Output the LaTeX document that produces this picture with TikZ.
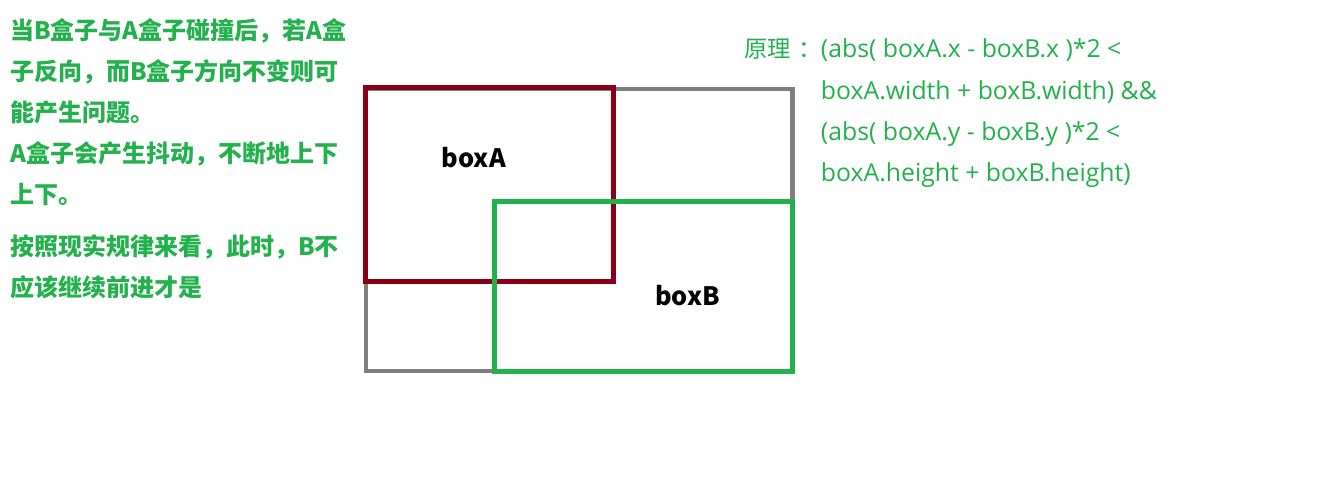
\documentclass[tikz,border=0pt]{standalone}
\usepackage{fontspec}
\setmainfont{Noto Sans CJK SC}
\newfontfamily\latinfont{Open Sans}
\definecolor{tgreen}{RGB}{34,177,76}
\definecolor{tred}{RGB}{136,0,21}
\definecolor{tgray}{RGB}{127,127,127}
\begin{document}
\begin{tikzpicture}[x=0.75pt,y=-0.75pt,
  lefttxt/.style={anchor=base west,inner sep=0,text=tgreen,font=\fontsize{18pt}{18pt}\selectfont\bfseries},
  cjktxt/.style={anchor=base west,inner sep=0,text=tgreen,font=\fontsize{17.5pt}{17.5pt}\selectfont},
  formtxt/.style={anchor=base west,inner sep=0,text=tgreen,font=\fontsize{18.6pt}{18.6pt}\selectfont\latinfont},
  boxlbl/.style={anchor=base west,inner sep=0,text=black,font=\fontsize{19pt}{19pt}\selectfont\bfseries},
  boxline/.style={line width=3.75pt}]
\useasboundingbox (0,0) rectangle (1318,492);
% rectangles
\draw[boxline,tgray,line width=3.4pt] (366.2,89.2) rectangle (792.5,371.2);
\draw[boxline,tred] (365.5,88) rectangle (613.3,281.8);
\draw[boxline,tgreen] (494.8,201.5) rectangle (792.5,371);
\node[boxlbl] (la) at (441.7,167.7) {boxA};
\node[boxlbl] (lb) at (655,305) {boxB};
% left text
\node[lefttxt] (t1) at (10,40) {当B盒子与A盒子碰撞后，若A盒};
\node[lefttxt] (t2) at (10,80.5) {子反向，而B盒子方向不变则可};
\node[lefttxt] (t3) at (10,121.5) {能产生问题。};
\node[lefttxt] (t4) at (10,162) {A盒子会产生抖动，不断地上下};
\node[lefttxt] (t5) at (10,203) {上下。};
\node[lefttxt] (t6) at (10,255) {按照现实规律来看，此时，B不};
\node[lefttxt] (t7) at (10,296) {应该继续前进才是};
% right text
\node[cjktxt] (p0) at (744,57.5) {原理\kern6pt：};
\node[formtxt] (p1) at (820.7,57.5) {(abs( boxA.x - boxB.x )*2 <};
\node[formtxt] (p2) at (820.7,99.5) {boxA.width + boxB.width) \&\&};
\node[formtxt] (p3) at (820.7,140.5) {(abs( boxA.y - boxB.y )*2 <};
\node[formtxt] (p4) at (820.7,181.5) {boxA.height + boxB.height)};
\end{tikzpicture}
\end{document}
